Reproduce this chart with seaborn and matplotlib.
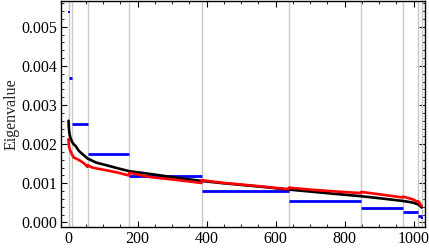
import matplotlib
matplotlib.use("Agg")
import matplotlib.pyplot as plt
import seaborn as sns
import pandas as pd
from matplotlib.ticker import MultipleLocator

# ---- data ----
black_x = [0, 1, 2, 3, 5, 8, 11, 15, 20, 30, 40, 56, 80, 111, 140, 176, 236, 300,
           386, 450, 500, 560, 638, 700, 760, 848, 900, 968, 990, 1000, 1013, 1018, 1023]
black_y = [0.00260, 0.00242, 0.00233, 0.00226, 0.00218, 0.00211, 0.00205, 0.00200,
           0.00196, 0.00183, 0.00175, 0.00163, 0.00153, 0.00146, 0.00139, 0.00131,
           0.00124, 0.00116, 0.00106, 0.00100, 0.00096, 0.00091, 0.00084, 0.00079,
           0.00074, 0.00067, 0.00062, 0.00055, 0.00052, 0.00050, 0.00046, 0.00043,
           0.00038]

red_x = [0, 1, 2, 4, 7, 11, 15, 25, 35, 45, 55, 56, 70, 111, 140, 175, 176, 236,
         300, 385, 386, 450, 500, 560, 637, 638, 700, 760, 847, 848, 900, 967, 968,
         990, 1000, 1012, 1013, 1018, 1023]
red_y = [0.00213, 0.00200, 0.00192, 0.00186, 0.00180, 0.00172, 0.00166, 0.00162,
         0.00157, 0.00151, 0.00142, 0.00146, 0.00140, 0.00133, 0.00128, 0.00120,
         0.00127, 0.00116, 0.00110, 0.00101, 0.00108, 0.00101, 0.00097, 0.00092,
         0.00085, 0.00089, 0.00084, 0.00080, 0.00075, 0.00078, 0.00072, 0.00064,
         0.00066, 0.00061, 0.00058, 0.00052, 0.00054, 0.00048, 0.00042]

block_start = [0, 1, 11, 56, 176, 386, 638, 848, 968, 1013, 1023]
block_end = [1, 11, 56, 176, 386, 638, 848, 968, 1013, 1023, 1024]
block_level = [0.00538, 0.00369, 0.00252, 0.00174, 0.00119, 0.00080, 0.00056,
               0.00037, 0.00026, 0.00017, 0.00011]
boundaries = [1, 11, 56, 176, 386, 638, 848, 968, 1013, 1023]

x_ticks = [0, 200, 400, 600, 800, 1000]
y_ticks = [0.000, 0.001, 0.002, 0.003, 0.004, 0.005]

sns.set_style("ticks")
plt.rcParams['font.family'] = ['Liberation Serif', 'DejaVu Serif']

fig = plt.figure(figsize=(4.29, 2.5), dpi=100)
ax = fig.add_axes([0.142, 0.093, 0.849, 0.903])

for b in boundaries:
    ax.axvline(b, color='#c8c8c8', lw=1.0, zorder=1)

for s, e, v in zip(block_start, block_end, block_level):
    single = (e - s) <= 1
    ax.plot([s, e], [v, v], color='#0000ff', lw=2.0, zorder=2,
            solid_capstyle='butt',
            marker='s' if single else None, markersize=2.0, markeredgewidth=0)

dfb = pd.DataFrame({'x': black_x, 'y': black_y})
dfr = pd.DataFrame({'x': red_x, 'y': red_y})
sns.lineplot(data=dfb, x='x', y='y', ax=ax, color='black', lw=1.9, zorder=3,
             estimator=None, sort=False)
sns.lineplot(data=dfr, x='x', y='y', ax=ax, color='#ff0000', lw=1.9, zorder=4,
             estimator=None, sort=False)

ax.set_xlim(-22, 1033)
ax.set_ylim(-0.00011, 0.00566)
ax.set_xticks(x_ticks)
ax.set_yticks(y_ticks)
ax.set_yticklabels([f"{v:.3f}" for v in y_ticks])
ax.xaxis.set_minor_locator(MultipleLocator(50))
ax.yaxis.set_minor_locator(MultipleLocator(0.0002))
ax.tick_params(which='both', direction='in', top=True, right=True, colors='black',
               labelsize=11.5, pad=3)
ax.tick_params(which='major', length=4, width=0.8)
ax.tick_params(which='minor', length=2, width=0.6)
for sp in ax.spines.values():
    sp.set_linewidth(1.0)
    sp.set_color('black')
ax.set_xlabel('')
ax.set_ylabel('Eigenvalue', fontsize=11.5, labelpad=1)

fig.savefig('out.png', dpi=100)
